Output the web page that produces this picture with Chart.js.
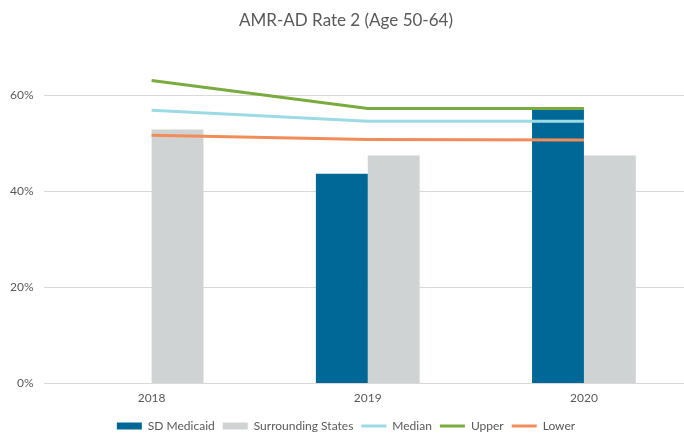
<!DOCTYPE html>
<html>
<head>
<meta charset="utf-8">
<script src="https://cdn.jsdelivr.net/npm/chart.js@4"></script>
<style>
    html, body { margin: 0; padding: 0; background: #fff; overflow: hidden; height: 434px; }
    #wrap { width: 692px; height: 442px; }
</style>
</head>
<body>
<div id="wrap"><canvas id="rateChart"></canvas></div>
<script>
const years = ['2018', '2019', '2020'];
const sdMedicaid = [null, 43.7, 57.3];
const surroundingStates = [52.9, 47.5, 47.5];
const median = [56.9, 54.6, 54.6];
const upper = [63.1, 57.3, 57.3];
const lower = [51.7, 50.8, 50.7];
const yTicks = [0, 20, 40, 60];

const fontName = "Lato, 'Open Sans', sans-serif";
const textColor = '#595959';

const ctx = document.getElementById('rateChart').getContext('2d');
new Chart(ctx, {
    type: 'bar',
    data: {
        labels: years,
        datasets: [{
            label: 'SD Medicaid',
            data: sdMedicaid,
            backgroundColor: '#006896',
            borderWidth: 0,
            pointStyle: 'rect',
            order: 2
        }, {
            label: 'Surrounding States',
            data: surroundingStates,
            backgroundColor: '#d0d3d4',
            borderWidth: 0,
            pointStyle: 'rect',
            order: 2
        }, {
            type: 'line',
            label: 'Median',
            data: median,
            borderColor: '#9cdbe6',
            backgroundColor: '#9cdbe6',
            borderWidth: 3,
            pointRadius: 0,
            pointStyle: 'line',
            order: 1
        }, {
            type: 'line',
            label: 'Upper',
            data: upper,
            borderColor: '#7aab3e',
            backgroundColor: '#7aab3e',
            borderWidth: 3,
            pointRadius: 0,
            pointStyle: 'line',
            order: 1
        }, {
            type: 'line',
            label: 'Lower',
            data: lower,
            borderColor: '#f28c58',
            backgroundColor: '#f28c58',
            borderWidth: 3,
            pointRadius: 0,
            pointStyle: 'line',
            order: 1
        }]
    },
    options: {
        responsive: true,
        maintainAspectRatio: false,
        animation: false,
        datasets: {
            bar: {
                categoryPercentage: 0.48,
                barPercentage: 1
            }
        },
        layout: {
            padding: { left: 0, right: 0, bottom: 0 }
        },
        scales: {
            x: {
                grid: { display: false, drawTicks: false },
                border: { display: false },
                ticks: {
                    color: textColor,
                    font: { family: fontName, size: 12 },
                    padding: 7
                }
            },
            y: {
                min: 0,
                max: 70,
                afterBuildTicks: axis => {
                    axis.ticks = yTicks.map(v => ({ value: v }));
                },
                grid: { color: '#d9d9d9', drawTicks: false },
                border: { display: false },
                ticks: {
                    color: textColor,
                    font: { family: fontName, size: 12 },
                    padding: 10,
                    callback: value => value + '%'
                }
            }
        },
        plugins: {
            title: {
                display: true,
                text: 'AMR-AD Rate 2 (Age 50-64)',
                color: textColor,
                font: { family: fontName, size: 17, weight: 'normal' },
                padding: { top: 10, bottom: 17 }
            },
            legend: {
                position: 'bottom',
                labels: {
                    usePointStyle: true,
                    pointStyleWidth: 25,
                    boxHeight: 7,
                    color: textColor,
                    font: { family: fontName, size: 12 },
                    padding: 8,
                    sort: (a, b) => a.datasetIndex - b.datasetIndex
                }
            },
            tooltip: { enabled: false }
        }
    }
});
</script>
</body>
</html>
